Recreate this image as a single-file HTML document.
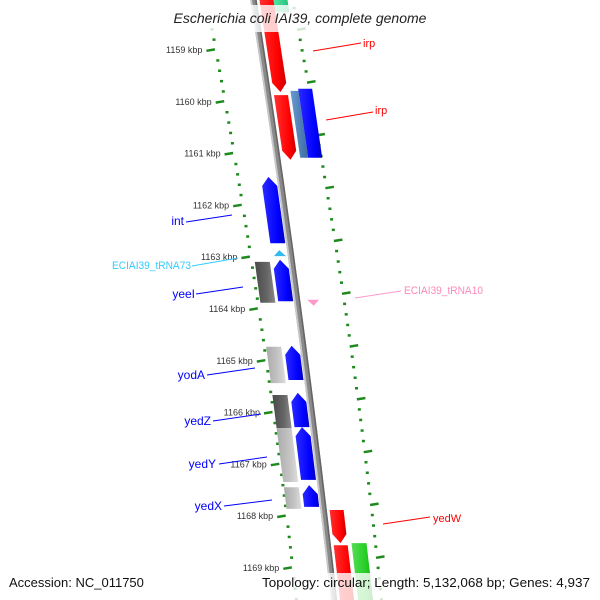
<!DOCTYPE html>
<html><head><meta charset="utf-8"><style>
html,body{margin:0;padding:0;background:#fff;width:600px;height:600px;overflow:hidden;}
svg{display:block;font-family:"Liberation Sans",sans-serif;overflow:hidden;}
</style></head><body>
<svg id="map" width="600" height="600" viewBox="0 0 600 600">
<defs>
<linearGradient id="gRed" x1="0" x2="1" y1="0" y2="0"><stop offset="0" stop-color="#ff3030"/><stop offset="0.7" stop-color="#ff0000"/><stop offset="1" stop-color="#c80000"/></linearGradient>
<linearGradient id="gBlue" x1="0" x2="1" y1="0" y2="0"><stop offset="0" stop-color="#2a2aff"/><stop offset="0.7" stop-color="#0000ff"/><stop offset="1" stop-color="#0000b8"/></linearGradient>
<linearGradient id="gSteel" x1="0" x2="1" y1="0" y2="0"><stop offset="0" stop-color="#6a9ad0"/><stop offset="1" stop-color="#3a6aa0"/></linearGradient>
<linearGradient id="gGreen" x1="0" x2="1" y1="0" y2="0"><stop offset="0" stop-color="#55dd55"/><stop offset="0.7" stop-color="#22cc22"/><stop offset="1" stop-color="#119911"/></linearGradient>
<linearGradient id="gTeal" x1="0" x2="1" y1="0" y2="0"><stop offset="0" stop-color="#55eeaa"/><stop offset="1" stop-color="#22bb77"/></linearGradient>
<linearGradient id="gDark" x1="0" x2="1" y1="0" y2="0"><stop offset="0" stop-color="#4a4a4a"/><stop offset="0.6" stop-color="#666"/><stop offset="1" stop-color="#8a8a8a"/></linearGradient>
<linearGradient id="gLight" x1="0" x2="1" y1="0" y2="0"><stop offset="0" stop-color="#aaa"/><stop offset="0.6" stop-color="#c4c4c4"/><stop offset="1" stop-color="#dedede"/></linearGradient>
</defs>
<g id="ticks"></g>
<g id="backbone"></g>
<g id="features"></g>
<g id="labels">
<g><line x1="313" y1="51" x2="361" y2="43" stroke="#ff0000" stroke-width="1"/><text x="363" y="47" font-size="11" fill="#ff0000">irp</text></g>
<g><line x1="326" y1="120" x2="373" y2="112" stroke="#ff0000" stroke-width="1"/><text x="375" y="114" font-size="11" fill="#ff0000">irp</text></g>
<g><line x1="186" y1="222" x2="232" y2="215" stroke="#0000ff" stroke-width="1"/><text x="184" y="225" font-size="12" fill="#0000ff" text-anchor="end">int</text></g>
<g><line x1="192" y1="266" x2="238" y2="258" stroke="#33ccff" stroke-width="1"/><text x="191" y="269" font-size="11" fill="#33ccff" text-anchor="end" textLength="79" lengthAdjust="spacingAndGlyphs">ECIAI39_tRNA73</text></g>
<g><line x1="196" y1="294" x2="243" y2="287" stroke="#0000ff" stroke-width="1"/><text x="195" y="298" font-size="12" fill="#0000ff" text-anchor="end">yeeI</text></g>
<g><line x1="355" y1="298" x2="401" y2="291" stroke="#ff99cc" stroke-width="1"/><text x="404" y="294" font-size="11" fill="#ff88bb" textLength="79" lengthAdjust="spacingAndGlyphs">ECIAI39_tRNA10</text></g>
<g><line x1="207" y1="375" x2="255" y2="368" stroke="#0000ff" stroke-width="1"/><text x="205" y="379" font-size="12" fill="#0000ff" text-anchor="end">yodA</text></g>
<g><line x1="213" y1="421" x2="261" y2="414" stroke="#0000ff" stroke-width="1"/><text x="211" y="425" font-size="12" fill="#0000ff" text-anchor="end">yedZ</text></g>
<g><line x1="219" y1="464" x2="267" y2="457" stroke="#0000ff" stroke-width="1"/><text x="216" y="468" font-size="12" fill="#0000ff" text-anchor="end">yedY</text></g>
<g><line x1="224" y1="506" x2="272" y2="500" stroke="#0000ff" stroke-width="1"/><text x="222" y="510" font-size="12" fill="#0000ff" text-anchor="end">yedX</text></g>
<g><line x1="383" y1="524" x2="430" y2="517" stroke="#ff0000" stroke-width="1"/><text x="433" y="522" font-size="11" fill="#ff0000">yedW</text></g>
</g>
<rect x="158" y="5" width="284" height="27" fill="#fff" fill-opacity="0.8"/>
<text x="300" y="23" font-size="14" font-style="italic" fill="#222" text-anchor="middle">Escherichia coli IAI39, complete genome</text>
<rect x="4" y="573" width="146" height="27" fill="#fff" fill-opacity="0.8"/>
<text x="9" y="587" font-size="13" fill="#111">Accession: NC_011750</text>
<rect x="256" y="573" width="340" height="27" fill="#fff" fill-opacity="0.8"/>
<text x="590" y="587" font-size="13" fill="#111" text-anchor="end" textLength="328" lengthAdjust="spacingAndGlyphs">Topology: circular; Length: 5,132,068 bp; Genes: 4,937</text>
</svg>
<script>
// data: left ring kbp ticks
const leftTicks = [1159,1160,1161,1162,1163,1164,1165,1166,1167,1168,1169];
const tickLabels = ["1159 kbp","1160 kbp","1161 kbp","1162 kbp","1163 kbp","1164 kbp","1165 kbp","1166 kbp","1167 kbp","1168 kbp","1169 kbp"];
// features: name, start kbp, end kbp, track, strand
const featNames  = ["teal-top","irp-1","irp-2","steel-gene","blue-gene-irp","int","yeeI-hit","yeeI","yodA-hit","yodA","yedZ-hit","yedZ","yedY-hit","yedY","yedX-hit","yedX","yedW-1","yedW-2","green-gene"];
const featStart  = [1157.65,1157.65,1159.87,1159.79,1159.75,1161.45,1163.09,1163.05,1164.73,1164.71,1165.66,1165.62,1166.30,1166.28,1167.44,1167.40,1167.88,1168.56,1168.52];
const featEnd    = [1158.27,1159.81,1161.12,1161.08,1161.08,1162.73,1163.88,1163.85,1165.43,1165.37,1166.30,1166.28,1167.34,1167.30,1167.86,1167.82,1168.52,1170.05,1170.05];
const featTrack  = ["teal","red","red","steel","blueR","blueL","dark","blueL","light","blueL","dark","blueL","light","blueL","light","blueL","red","red","green"];
const featDir    = [0,1,1,0,0,-1,0,-1,0,-1,0,-1,0,-1,0,-1,1,1,0];
// tRNA markers
const trnaNames = ["ECIAI39_tRNA73","ECIAI39_tRNA10"];
const trnaPos   = [1162.92,1163.88];
const trnaDir   = [-1,1];

const NS="http://www.w3.org/2000/svg";
function yOf(k){return 50+51.8*(k-1159);}
function clampY(y){return Math.max(-3,Math.min(603,y));}
function bx(y){return 253.5+0.1558*y-3.6e-5*y*y;}
function ringL(y){const d=y-48;return 214+0.1833*d-6.66e-5*d*d;}
function ringR(y){const d=y-82;return 307+0.1825*d-7.86e-5*d*d;}
const tracks={teal:[19,34,"url(#gTeal)"],red:[6,20,"url(#gRed)"],steel:[23,31,"url(#gSteel)"],blueR:[31,45,"url(#gBlue)"],
green:[24,39,"url(#gGreen)"],blueL:[-19,-4,"url(#gBlue)"],dark:[-37,-22,"url(#gDark)"],light:[-37,-22,"url(#gLight)"]};

const tg=document.getElementById("ticks");
for(let i=-2;i<=56;i++){
  const k=1159+i/5; const y=yOf(k);
  if(y>600)break;
  if(i%5!==0){
    const r=document.createElementNS(NS,"rect");
    r.setAttribute("x",(ringL(y)).toFixed(1));r.setAttribute("y",(y-1.2).toFixed(1));
    r.setAttribute("width","3");r.setAttribute("height","2.5");r.setAttribute("fill","#1e8a1e");
    
    
    tg.appendChild(r);
  }
}
leftTicks.forEach((k,i)=>{
  const y=yOf(k); const x=ringL(y);
  const l=document.createElementNS(NS,"line");
  l.setAttribute("x1",(x-8).toFixed(1));l.setAttribute("x2",(x+0.5).toFixed(1));
  l.setAttribute("y1",(y+0.8).toFixed(1));l.setAttribute("y2",(y-0.6).toFixed(1));
  l.setAttribute("stroke","#1e8a1e");l.setAttribute("stroke-width","2.5");
  
  
  tg.appendChild(l);
  const t=document.createElementNS(NS,"text");
  t.setAttribute("x",(x-12).toFixed(1));t.setAttribute("y",(y+3).toFixed(1));
  t.setAttribute("font-size","9");t.setAttribute("fill","#333");t.setAttribute("text-anchor","end");
  t.textContent=tickLabels[i];
  
  
  tg.appendChild(t);
});
for(let i=-10;i<=52;i++){
  const y=82+52.8*i/5;
  if(y>600)break;
  if(i%5!==0){
    const r=document.createElementNS(NS,"rect");
    r.setAttribute("x",(ringR(y)-0.5).toFixed(1));r.setAttribute("y",(y-1.2).toFixed(1));
    r.setAttribute("width","3");r.setAttribute("height","2.5");r.setAttribute("fill","#1e8a1e");
    
    
    tg.appendChild(r);
  } else {
    const x=ringR(y);
    const l=document.createElementNS(NS,"line");
    l.setAttribute("x1",x.toFixed(1));l.setAttribute("x2",(x+8.5).toFixed(1));
    l.setAttribute("y1",(y+0.6).toFixed(1));l.setAttribute("y2",(y-0.8).toFixed(1));
    l.setAttribute("stroke","#1e8a1e");l.setAttribute("stroke-width","2.5");
    
    
    tg.appendChild(l);
  }
}
const bg=document.getElementById("backbone");
function strip(d0,d1,fill,name){
  let pts=[];
  for(let y=0;y<=600;y+=15)pts.push((bx(y)+d0).toFixed(1)+","+y);
  for(let y=600;y>=0;y-=15)pts.push((bx(y)+d1).toFixed(1)+","+y);
  const p=document.createElementNS(NS,"polygon");
  p.setAttribute("points",pts.join(" "));p.setAttribute("fill",fill);
  
  
  bg.appendChild(p);
}
strip(-3.2,3.2,"#8a8a8a","backbone");
strip(-3.2,-1.4,"#c8c8c8","backbone-highlight");
strip(1.6,3.2,"#666","backbone-shadow");
const fg=document.getElementById("features");
featNames.forEach((n,i)=>{
  const tr=tracks[featTrack[i]];
  const y0=yOf(featStart[i]),y1=yOf(featEnd[i]);
  const d0=tr[0],d1=tr[1],dm=(d0+d1)/2,h=9;
  const P=(d,y)=>{const yy=clampY(y);return (bx(yy)+d).toFixed(1)+","+yy.toFixed(1);};
  let pts;
  if(featDir[i]===1 && y1<=600) pts=[P(d0,y0),P(d1,y0),P(d1,y1-h),P(dm,y1),P(d0,y1-h)];
  else if(featDir[i]===-1) pts=[P(dm,y0),P(d1,y0+h),P(d1,y1),P(d0,y1),P(d0,y0+h)];
  else pts=[P(d0,y0),P(d1,y0),P(d1,y1),P(d0,y1)];
  const p=document.createElementNS(NS,"polygon");
  p.setAttribute("points",pts.join(" "));p.setAttribute("fill",tr[2]);
  
  
  fg.appendChild(p);
});
const trnaCol=["#33bbee","#ff99cc"], trnaD=[[-17,-5],[10,22]];
trnaNames.forEach((n,i)=>{
  const y=yOf(trnaPos[i]); const [d0,d1]=trnaD[i]; const dm=(d0+d1)/2;
  let pts;
  if(trnaDir[i]===-1) pts=[[dm,y-3],[d1,y+3],[d0,y+3]];
  else pts=[[d0,y-3],[d1,y-3],[dm,y+3]];
  const p=document.createElementNS(NS,"polygon");
  p.setAttribute("points",pts.map(a=>(bx(a[1])+a[0]).toFixed(1)+","+a[1].toFixed(1)).join(" "));
  p.setAttribute("fill",trnaCol[i]);
  
  
  fg.appendChild(p);
});
</script>
</body></html>
